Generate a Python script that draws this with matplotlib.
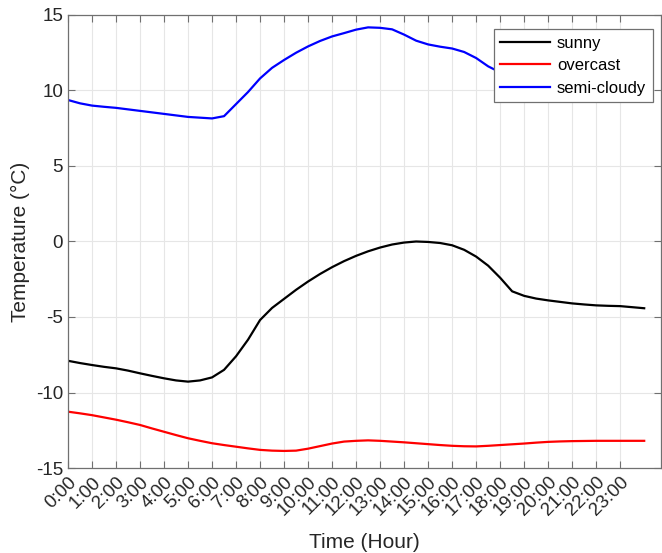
import matplotlib
matplotlib.use("Agg")
import matplotlib.pyplot as plt
import matplotlib.transforms as mtransforms

plt.rcParams['font.family'] = ['Liberation Sans', 'DejaVu Sans']
plt.rcParams['axes.unicode_minus'] = False

# time in hours (half-hour steps)
hours = [i * 0.5 for i in range(49)]

sunny = [-7.9, -8.05, -8.18, -8.3, -8.4, -8.55, -8.73, -8.9, -9.06, -9.2,
         -9.28, -9.2, -9.0, -8.5, -7.6, -6.5, -5.2, -4.4, -3.8, -3.2,
         -2.65, -2.15, -1.7, -1.3, -0.95, -0.65, -0.4, -0.2, -0.07, 0.0,
         -0.03, -0.1, -0.25, -0.55, -1.0, -1.6, -2.4, -3.3, -3.6, -3.78,
         -3.9, -4.0, -4.1, -4.17, -4.23, -4.26, -4.28, -4.35, -4.42]

overcast = [-11.27, -11.38, -11.5, -11.65, -11.8, -11.97, -12.15, -12.38, -12.6, -12.82,
            -13.03, -13.2, -13.36, -13.48, -13.59, -13.7, -13.8, -13.85, -13.87, -13.85,
            -13.72, -13.55, -13.38, -13.25, -13.2, -13.17, -13.2, -13.25, -13.3, -13.36,
            -13.42, -13.48, -13.53, -13.56, -13.57, -13.53, -13.48, -13.43, -13.38, -13.32,
            -13.27, -13.24, -13.22, -13.21, -13.2, -13.2, -13.2, -13.2, -13.2]

semi_cloudy = [9.37, 9.15, 9.0, 8.92, 8.85, 8.75, 8.65, 8.55, 8.45, 8.35,
               8.25, 8.2, 8.15, 8.3, 9.1, 9.9, 10.8, 11.5, 12.02, 12.5,
               12.92, 13.28, 13.58, 13.8, 14.03, 14.18, 14.15, 14.05, 13.7, 13.3,
               13.05, 12.9, 12.78, 12.55, 12.15, 11.6, 11.2, 10.95, 10.75, 10.6,
               10.5, 10.4, 10.3, 10.2, 10.1, 10.0, 9.9, 9.8, 9.7]

tick_hours = list(range(24))
tick_labels = [f"{h}:00" for h in tick_hours]

fig = plt.figure(figsize=(6.62, 5.53), dpi=100)
ax = fig.add_axes([0.1027, 0.1537, 0.8958, 0.8192])

ax.plot(hours, sunny, color='black', lw=1.6, label='sunny')
ax.plot(hours, overcast, color='red', lw=1.6, label='overcast')
ax.plot(hours, semi_cloudy, color='blue', lw=1.6, label='semi-cloudy')

ax.set_xlim(0, 24.7)
ax.set_ylim(-15, 15)
ax.set_yticks([-15, -10, -5, 0, 5, 10, 15])
ax.set_xticks(tick_hours)
ax.set_xticklabels(tick_labels, rotation=45, ha='right', va='top',
                   rotation_mode='anchor')
# shift rotated labels a little right/down like the original
offset = mtransforms.ScaledTranslation(6 / 100, -3 / 100, fig.dpi_scale_trans)
for lab in ax.get_xticklabels():
    lab.set_transform(lab.get_transform() + offset)

ax.grid(True, color='#e6e6e6', lw=0.8)
ax.set_axisbelow(True)
for s in ax.spines.values():
    s.set_color('#707070')
    s.set_linewidth(0.9)
ax.tick_params(direction='in', length=5, width=0.8, color='#707070',
               labelsize=13.5, labelcolor='#262626', top=True, right=True)
ax.tick_params(axis='x', pad=4)

ax.set_xlabel('Time (Hour)', fontsize=15, color='#262626', labelpad=10)
ax.set_ylabel('Temperature (°C)', fontsize=15, color='#262626')

leg = ax.legend(loc='upper right', fontsize=12, fancybox=False, framealpha=1,
                edgecolor='#707070', handlelength=3.0, borderpad=0.4,
                labelspacing=0.45, handletextpad=0.4, borderaxespad=0,
                bbox_to_anchor=(0.9865, 0.969))
leg.get_frame().set_linewidth(0.9)

fig.savefig('out.png', dpi=100)
